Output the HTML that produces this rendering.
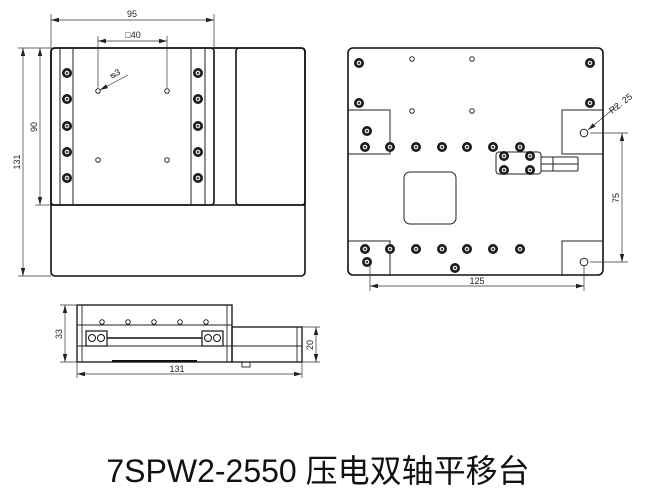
<!DOCTYPE html>
<html><head><meta charset="utf-8"><style>
html,body{margin:0;padding:0;background:#fff;}
svg{display:block;}
text{font-family:"Liberation Sans","Noto Sans CJK SC",sans-serif;}
</style></head><body>
<svg width="654" height="497" viewBox="0 0 654 497" xmlns="http://www.w3.org/2000/svg">
<defs>
<g id="sc"><circle r="5" fill="#1a1a1a"/><circle r="2.7" fill="#fff" stroke="#222" stroke-width="0.8"/><circle r="1.3" fill="#444"/></g>
<g id="ho"><circle r="2.3" fill="#fff" stroke="#222" stroke-width="0.9"/></g>
<marker id="ar" markerWidth="8" markerHeight="6" refX="8" refY="3" orient="auto-start-reverse" markerUnits="userSpaceOnUse"><path d="M0,0.8 L8,3 L0,5.2 Z" fill="#222"/></marker>
</defs>
<g fill="none" stroke="#111" stroke-width="1.6">
<rect x="51" y="48" width="254" height="228" rx="4"/>
<line x1="51" y1="205" x2="305" y2="205"/>
<rect x="51" y="48" width="163" height="157" rx="3"/>
<rect x="236" y="48" width="69" height="157" rx="3"/>
<line x1="214" y1="48" x2="236" y2="48"/>
</g>
<g fill="none" stroke="#222" stroke-width="1">
<line x1="60" y1="48" x2="60" y2="205"/><line x1="73" y1="48" x2="73" y2="205"/>
<line x1="191" y1="48" x2="191" y2="205"/><line x1="205" y1="48" x2="205" y2="205"/>
</g>
<g>
<use href="#sc" x="67" y="73"/><use href="#sc" x="67" y="99"/><use href="#sc" x="67" y="126"/><use href="#sc" x="67" y="152"/><use href="#sc" x="67" y="178"/>
<use href="#sc" x="198" y="73"/><use href="#sc" x="198" y="99"/><use href="#sc" x="198" y="126"/><use href="#sc" x="198" y="152"/><use href="#sc" x="198" y="178"/>
<use href="#ho" x="98" y="91"/><use href="#ho" x="167" y="91"/><use href="#ho" x="98" y="160"/><use href="#ho" x="167" y="160"/>
</g>
<g stroke="#333" stroke-width="0.7" fill="none">
<line x1="51" y1="14" x2="51" y2="48"/><line x1="214" y1="14" x2="214" y2="48"/>
<line x1="51" y1="20" x2="214" y2="20" marker-start="url(#ar)" marker-end="url(#ar)"/>
<line x1="98" y1="36" x2="98" y2="88"/><line x1="167" y1="36" x2="167" y2="88"/>
<line x1="98" y1="41" x2="167" y2="41" marker-start="url(#ar)" marker-end="url(#ar)"/>
<line x1="128" y1="75" x2="100" y2="90" marker-end="url(#ar)"/>
<line x1="18" y1="48" x2="51" y2="48"/><line x1="18" y1="276" x2="51" y2="276"/>
<line x1="23" y1="48" x2="23" y2="276" marker-start="url(#ar)" marker-end="url(#ar)"/>
<line x1="35" y1="205" x2="51" y2="205"/>
<line x1="40" y1="48" x2="40" y2="205" marker-start="url(#ar)" marker-end="url(#ar)"/>
</g>
<g font-size="9" fill="#222">
<text x="132" y="17" text-anchor="middle">95</text>
<text x="133" y="38" text-anchor="middle">□40</text>
<text x="112" y="79" transform="rotate(-30 112 79)">ᴓ3</text>
<text transform="translate(20 162) rotate(-90)" text-anchor="middle">131</text>
<text transform="translate(37 127) rotate(-90)" text-anchor="middle">90</text>
</g>

<g fill="none" stroke="#111" stroke-width="1.6">
<rect x="348" y="48" width="255" height="227" rx="5"/>
</g>
<g fill="none" stroke="#222" stroke-width="1">
<polyline points="348,110 390,110 390,154 348,154"/>
<polyline points="348,241 390,241 390,275"/>
<polyline points="603,110 562,110 562,154 603,154"/>
<polyline points="603,241 562,241 562,275"/>
<rect x="404" y="172" width="52" height="52" rx="6"/>
<rect x="496" y="152" width="45" height="22" rx="3"/>
<rect x="541" y="157" width="37" height="14" rx="1"/>
<line x1="541" y1="164" x2="578" y2="164"/><line x1="553" y1="157" x2="553" y2="171"/>
</g>
<g>
<use href="#sc" x="359" y="63"/><use href="#sc" x="590" y="63"/><use href="#sc" x="359" y="103"/><use href="#sc" x="590" y="103"/>
<use href="#ho" x="412" y="59"/><use href="#ho" x="472" y="59"/><use href="#ho" x="412" y="111"/><use href="#ho" x="472" y="111"/>
<use href="#sc" x="365" y="147"/><use href="#sc" x="390" y="147"/><use href="#sc" x="416" y="147"/><use href="#sc" x="442" y="147"/><use href="#sc" x="467" y="147"/><use href="#sc" x="493" y="147"/><use href="#sc" x="520" y="147"/>
<use href="#sc" x="365" y="249"/><use href="#sc" x="390" y="249"/><use href="#sc" x="416" y="249"/><use href="#sc" x="442" y="249"/><use href="#sc" x="467" y="249"/><use href="#sc" x="493" y="249"/><use href="#sc" x="520" y="249"/>
<use href="#sc" x="367" y="131"/><use href="#sc" x="367" y="262"/><use href="#sc" x="455" y="268"/>
<use href="#sc" x="504" y="156"/><use href="#sc" x="530" y="156"/><use href="#sc" x="504" y="170"/><use href="#sc" x="530" y="170"/>
<circle cx="584" cy="133" r="3.8" fill="#fff" stroke="#222"/>
<circle cx="584" cy="262" r="3.8" fill="#fff" stroke="#222"/>
</g>
<g stroke="#333" stroke-width="0.7" fill="none">
<line x1="618" y1="105" x2="588" y2="130" marker-end="url(#ar)"/>
<line x1="590" y1="133" x2="628" y2="133"/><line x1="590" y1="262" x2="628" y2="262"/>
<line x1="622" y1="133" x2="622" y2="262" marker-start="url(#ar)" marker-end="url(#ar)"/>
<line x1="370" y1="266" x2="370" y2="291"/><line x1="584" y1="266" x2="584" y2="291"/>
<line x1="370" y1="286" x2="584" y2="286" marker-start="url(#ar)" marker-end="url(#ar)"/>
</g>
<g font-size="9" fill="#222">
<text x="612" y="114" transform="rotate(-38 612 114)">R2. 25</text>
<text transform="translate(619 198) rotate(-90)" text-anchor="middle">75</text>
<text x="477" y="284" text-anchor="middle">125</text>
</g>

<g fill="none" stroke="#111" stroke-width="1.3">
<rect x="77" y="305" width="155" height="57"/>
<rect x="232" y="327" width="70" height="35"/>
</g>
<g fill="none" stroke="#222" stroke-width="0.9">
<line x1="77" y1="325" x2="232" y2="325"/>
<line x1="82" y1="305" x2="82" y2="362"/><line x1="227" y1="305" x2="227" y2="362"/>
<line x1="77" y1="346" x2="302" y2="346"/>
<line x1="297" y1="327" x2="297" y2="362"/>
<rect x="242" y="362" width="8" height="5"/>
</g>
<line x1="112" y1="361" x2="197" y2="361" stroke="#111" stroke-width="2"/>
<line x1="107" y1="338" x2="202" y2="338" stroke="#111" stroke-width="1.4"/>
<g>
<rect x="86" y="331" width="21" height="15" fill="#fff" stroke="#111" stroke-width="1.2"/>
<rect x="202" y="331" width="21" height="15" fill="#fff" stroke="#111" stroke-width="1.2"/>
<circle cx="92" cy="338" r="3.5" fill="#fff" stroke="#111"/><circle cx="101" cy="338" r="3.5" fill="#fff" stroke="#111"/>
<circle cx="208" cy="338" r="3.5" fill="#fff" stroke="#111"/><circle cx="217" cy="338" r="3.5" fill="#fff" stroke="#111"/>
<use href="#ho" x="102" y="322"/><use href="#ho" x="128" y="322"/><use href="#ho" x="154" y="322"/><use href="#ho" x="180" y="322"/><use href="#ho" x="206" y="322"/>
</g>
<g stroke="#333" stroke-width="0.7" fill="none">
<line x1="60" y1="305" x2="77" y2="305"/><line x1="60" y1="362" x2="77" y2="362"/>
<line x1="65" y1="305" x2="65" y2="362" marker-start="url(#ar)" marker-end="url(#ar)"/>
<line x1="302" y1="327" x2="320" y2="327"/><line x1="302" y1="362" x2="320" y2="362"/>
<line x1="316" y1="327" x2="316" y2="362" marker-start="url(#ar)" marker-end="url(#ar)"/>
<line x1="77" y1="362" x2="77" y2="378"/><line x1="302" y1="362" x2="302" y2="378"/>
<line x1="77" y1="374" x2="302" y2="374" marker-start="url(#ar)" marker-end="url(#ar)"/>
</g>
<g font-size="9" fill="#222">
<text transform="translate(62 334) rotate(-90)" text-anchor="middle">33</text>
<text transform="translate(313 345) rotate(-90)" text-anchor="middle">20</text>
<text x="177" y="372" text-anchor="middle">131</text>
</g>

<text x="318" y="482" font-size="32" text-anchor="middle" fill="#111">7SPW2-2550 压电双轴平移台</text>
</svg>
</body></html>
